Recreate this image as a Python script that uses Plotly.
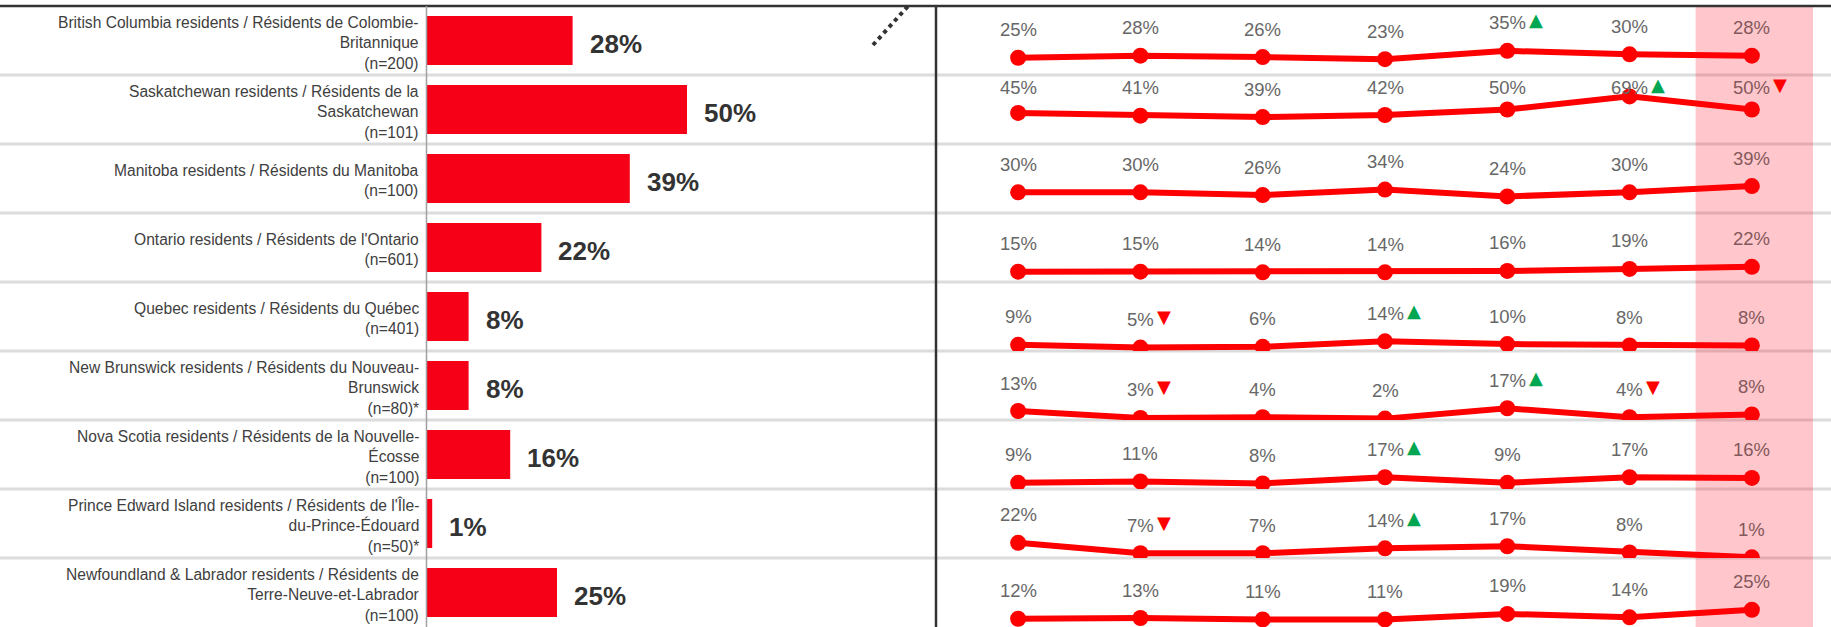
import plotly.graph_objects as go

# ---------------- data ----------------
regions = ["BC", "SK", "MB", "ON", "QC", "NB", "NS", "PE", "NL"]
region_labels = [
    "British Columbia residents / Résidents de Colombie-<br>Britannique<br>(n=200)",
    "Saskatchewan residents / Résidents de la<br>Saskatchewan<br>(n=101)",
    "Manitoba residents / Résidents du Manitoba<br>(n=100)",
    "Ontario residents / Résidents de l'Ontario<br>(n=601)",
    "Quebec residents / Résidents du Québec<br>(n=401)",
    "New Brunswick residents / Résidents du Nouveau-<br>Brunswick<br>(n=80)*",
    "Nova Scotia residents / Résidents de la Nouvelle-<br>Écosse<br>(n=100)",
    "Prince Edward Island residents / Résidents de l'Île-<br>du-Prince-Édouard<br>(n=50)*",
    "Newfoundland & Labrador residents / Résidents de<br>Terre-Neuve-et-Labrador<br>(n=100)",
]
current_values = [28, 50, 39, 22, 8, 8, 16, 1, 25]

waves = ["W1", "W2", "W3", "W4", "W5", "W6", "W7"]
bc_trend = [25, 28, 26, 23, 35, 30, 28]
sk_trend = [45, 41, 39, 42, 50, 69, 50]
mb_trend = [30, 30, 26, 34, 24, 30, 39]
on_trend = [15, 15, 14, 14, 16, 19, 22]
qc_trend = [9, 5, 6, 14, 10, 8, 8]
nb_trend = [13, 3, 4, 2, 17, 4, 8]
ns_trend = [9, 11, 8, 17, 9, 17, 16]
pe_trend = [22, 7, 7, 14, 17, 8, 1]
nl_trend = [12, 13, 11, 11, 19, 14, 25]
trends = [bc_trend, sk_trend, mb_trend, on_trend, qc_trend, nb_trend, ns_trend, pe_trend, nl_trend]

# significance flags: "u" = significantly higher, "d" = significantly lower
bc_flags = ["", "", "", "", "u", "", ""]
sk_flags = ["", "", "", "", "", "u", "d"]
mb_flags = ["", "", "", "", "", "", ""]
on_flags = ["", "", "", "", "", "", ""]
qc_flags = ["", "d", "", "u", "", "", ""]
nb_flags = ["", "d", "", "", "u", "d", ""]
ns_flags = ["", "", "", "u", "", "", ""]
pe_flags = ["", "d", "", "u", "", "", ""]
nl_flags = ["", "", "", "", "", "", ""]
flags = [bc_flags, sk_flags, mb_flags, on_flags, qc_flags, nb_flags, ns_flags, pe_flags, nl_flags]

# ---------------- styling / layout constants ----------------
W, H = 1831, 627
TOP = 6
ROW = 69
FONT = "Liberation Sans, Arial, sans-serif"
BAR_RED = "#F50016"
LINE_RED = "#FF0000"
GREEN = "#00A651"
DARK = "#333333"
SEP = "#DCDCDC"
LBL_GRAY = "#676767"
LBL_BAND = "#84585C"


def py(px):
    return 1 - px / H


def pxx(px):
    return px / W


fig = go.Figure()

# left bar chart
fig.add_trace(go.Bar(
    x=current_values, y=regions, orientation="h",
    marker=dict(color=BAR_RED, line=dict(width=0)),
    width=0.71, xaxis="x", yaxis="y", hoverinfo="skip",
))

layout = dict(
    width=W, height=H,
    margin=dict(l=0, r=0, t=0, b=0),
    paper_bgcolor="white", plot_bgcolor="white",
    showlegend=False,
    font=dict(family=FONT),
    xaxis=dict(domain=[pxx(427), pxx(427 + 5.2 * 60)], range=[0, 60], visible=False, fixedrange=True),
    yaxis=dict(domain=[0, py(TOP)], type="category", categoryorder="array", categoryarray=regions,
               range=[8.5, -0.5], visible=False, fixedrange=True),
)

annotations = []
shapes = []

# separators
for i in range(1, 9):
    yy = py(TOP + ROW * i)
    shapes.append(dict(type="line", xref="paper", yref="paper", x0=0, x1=1, y0=yy, y1=yy,
                       line=dict(color=SEP, width=3), layer="below"))

# region labels + bar value labels
for key, lab, v in zip(regions, region_labels, current_values):
    annotations.append(dict(xref="paper", yref="y", x=pxx(421), y=key, text=lab, yshift=-2,
                            xanchor="right", yanchor="middle", align="right", showarrow=False,
                            font=dict(size=15.6, color="#404040", family=FONT)))
    annotations.append(dict(xref="x", yref="y", x=v, y=key, text=f"<b>{v}%</b>",
                            xanchor="left", yanchor="middle", xshift=15, yshift=-3, showarrow=False,
                            font=dict(size=26, color=DARK, family=FONT)))

# trend small multiples
for i, (series, fl) in enumerate(zip(trends, flags)):
    n = i + 2
    xa, ya = f"x{n}", f"y{n}"
    fig.add_trace(go.Scatter(
        x=waves, y=series, mode="lines+markers",
        line=dict(color=LINE_RED, width=6),
        marker=dict(color=LINE_RED, size=16),
        xaxis=xa, yaxis=ya, cliponaxis=True, hoverinfo="skip",
    ))
    layout[f"xaxis{n}"] = dict(domain=[pxx(957), pxx(1813)], type="category", range=[-0.5, 6.5],
                               visible=False, anchor=ya, fixedrange=True)
    layout[f"yaxis{n}"] = dict(domain=[py(TOP + ROW * (i + 1)), py(TOP + ROW * i)], range=[0, 100],
                               visible=False, anchor=xa, fixedrange=True)
    for j, (w, v, f) in enumerate(zip(waves, series, fl)):
        ylab = min(v, 41)
        col = LBL_BAND if j == len(waves) - 1 else LBL_GRAY
        annotations.append(dict(xref=xa, yref=ya, x=w, y=ylab, yshift=28, text=f"{v}%",
                                xanchor="center", yanchor="middle", showarrow=False,
                                font=dict(size=18.5, color=col, family=FONT)))
        if f:
            tw = (len(str(v)) * 0.556 + 0.889) * 18.5
            annotations.append(dict(xref=xa, yref=ya, x=w, y=ylab, yshift=31, xshift=tw / 2 + 1,
                                    text="▲" if f == "u" else "▼",
                                    xanchor="left", yanchor="middle", showarrow=False,
                                    font=dict(size=18, color=GREEN if f == "u" else LINE_RED,
                                              family="DejaVu Sans")))

# highlight band for latest wave
shapes.append(dict(type="rect", xref="x2", yref="paper", x0=5.54, x1=6.5, y0=0, y1=py(TOP - 1),
                   fillcolor="rgba(255,0,20,0.22)", line=dict(width=0), layer="above"))

# frame lines
shapes.append(dict(type="line", xref="paper", yref="paper", x0=0, x1=1, y0=py(TOP), y1=py(TOP),
                   line=dict(color=DARK, width=2.5), layer="above"))
shapes.append(dict(type="line", xref="paper", yref="paper", x0=pxx(936), x1=pxx(936), y0=0, y1=py(TOP),
                   line=dict(color=DARK, width=2.5), layer="above"))
shapes.append(dict(type="line", xref="paper", yref="paper", x0=pxx(426.5), x1=pxx(426.5), y0=0, y1=py(TOP),
                   line=dict(color="#A0A0A0", width=1.5), layer="above"))
# dotted diagonal decoration
shapes.append(dict(type="line", xref="paper", yref="paper", x0=pxx(873), y0=py(45), x1=pxx(909), y1=py(5),
                   line=dict(color=DARK, width=4, dash="dot"), layer="above"))

layout["annotations"] = annotations
layout["shapes"] = shapes
fig.update_layout(**layout)

fig.write_html(
    "out.html",
    config={"displayModeBar": False},
    post_script="document.body.style.margin='0';document.body.style.padding='0';document.body.style.overflow='hidden';",
)
